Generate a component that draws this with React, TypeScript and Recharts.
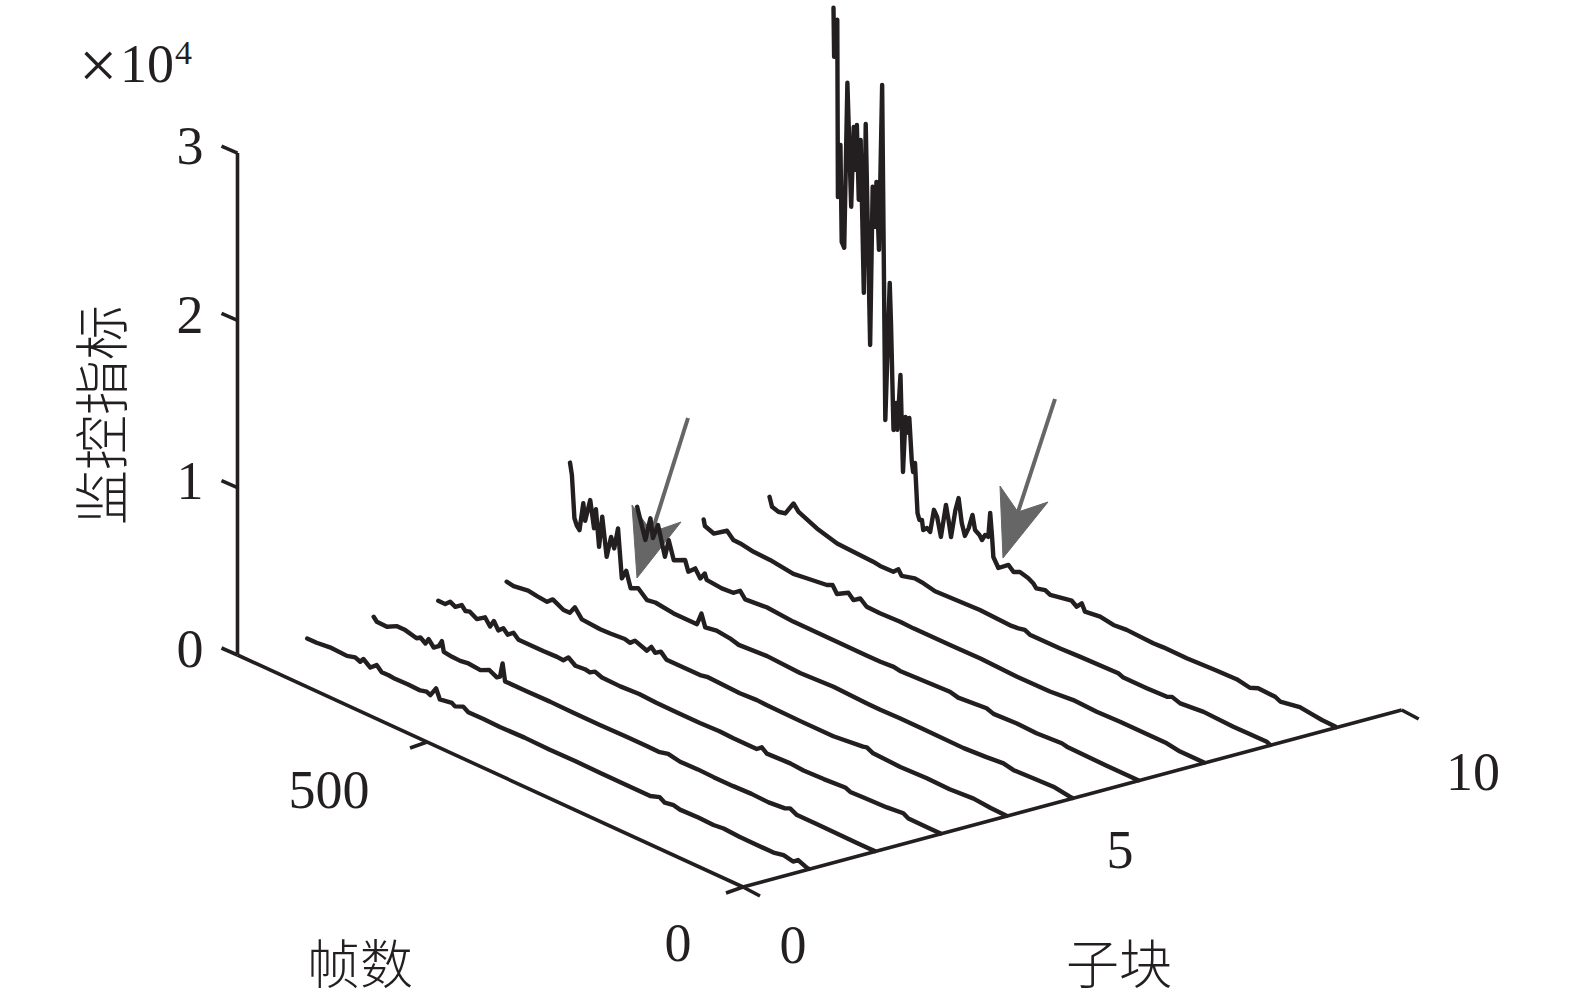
import { ComposedChart, Line, XAxis, YAxis } from 'recharts';

// [frame, monitoring index], back of the plot first
const block1 = [[794, 30], [779, 40], [758, 130], [731, 85], [718, 220], [710, 100], [705, 350], [694, 30], [684, 350], [676, 55], [665, 70], [655, 30], [635, 50], [615, 30], [605, 130], [599, 30], [590, 590], [584, 30], [565, 155], [560, 30], [547, 240], [539, 40], [515, 60], [489, 30], [450, 70], [410, 40], [370, 60], [330, 30], [288, 30], [251, 30], [236, 220], [228, 30], [214, 120], [204, 30], [175, 60], [151, 30], [135, 100], [110, 40], [83, 30], [56, 30], [40, 155], [25, 30], [17, 260], [3, 30], [0, 30]];
const block2 = [[793, 290], [788, 80], [772, 55], [756, 370], [743, 360], [725, 185], [719, 335], [711, 115], [706, 460], [698, 100], [690, 315], [685, 710], [682, 115], [669, 45], [656, 30], [643, 100], [624, 30], [610, 280], [598, 50], [593, 175], [589, 1040], [585, 30], [551, 30], [514, 55], [477, 30], [435, 30], [392, 60], [361, 60], [342, 35], [327, 170], [308, 30], [280, 60], [255, 30], [224, 30], [195, 70], [168, 30], [142, 125], [134, 260], [123, 50], [92, 60], [55, 40], [29, 30], [10, 30], [0, 30]];
const block3 = [[795, 155], [784, 145], [776, 420], [768, 260], [758, 540], [752, 290], [745, 370], [734, 120], [721, 450], [713, 40], [707, 470], [700, 30], [692, 295], [685, 30], [676, 305], [668, 30], [629, 30], [607, 60], [597, 30], [589, 340], [578, 30], [563, 85], [555, 30], [547, 215], [536, 60], [507, 30], [477, 90], [450, 40], [418, 30], [381, 30], [350, 70], [328, 30], [291, 30], [283, 270], [275, 30], [238, 90], [217, 30], [185, 70], [151, 160], [143, 30], [122, 60], [85, 110], [59, 210], [51, 30], [19, 30], [0, 30]];
const block4 = [[791, 305], [780, 230], [757, 360], [743, 275], [727, 210], [718, 515], [701, 170], [691, 185], [683, 645], [672, 115], [643, 30], [627, 50], [604, 125], [596, 30], [588, 300], [569, 30], [562, 380], [556, 130], [547, 355], [538, 30], [485, 30], [474, 115], [422, 30], [395, 90], [379, 60], [327, 30], [274, 30], [227, 220], [221, 280], [211, 100], [200, 90], [168, 30], [126, 80], [90, 50], [52, 150], [25, 60], [0, 30]];
const block5 = [[795, 6300], [792, 5610], [788, 3090], [784, 2700], [780, 2520], [774, 4230], [771, 3240], [763, 4610], [757, 3030], [754, 4220], [749, 2060], [744, 3950], [737, 1670], [730, 2980], [725, 2380], [719, 3680], [713, 795], [706, 1370], [699, 450], [687, 660], [673, 185], [660, 275], [631, 125], [594, 125], [587, 880], [581, 155], [563, 270], [542, 180], [528, 30], [483, 140], [431, 30], [378, 125], [325, 50], [304, 30], [273, 60], [238, 60], [172, 30], [136, 115], [109, 210], [93, 80], [62, 140], [30, 185], [4, 40], [0, 30]];
const block6 = [[793, 2630], [780, 875], [772, 2310], [768, 1200], [760, 2120], [749, 410], [743, 1500], [735, 440], [717, 765], [712, 155], [701, 545], [693, 85], [686, 500], [683, 170], [659, 80], [641, 125], [630, 440], [622, 60], [588, 180], [546, 50], [482, 50], [430, 30], [408, 40], [387, 100], [377, 30], [298, 160], [285, 30], [240, 175], [229, 30], [192, 100], [161, 50], [121, 145], [113, 80], [50, 30], [0, 30]];
const block7 = [[792, 840], [790, 480], [776, 270], [755, 800], [745, 420], [734, 405], [713, 270], [687, 235], [650, 40], [629, 145], [597, 295], [588, 455], [581, 40], [563, 425], [555, 125], [544, 410], [534, 90], [513, 60], [481, 115], [460, 80], [402, 90], [354, 120], [296, 30], [244, 50], [207, 180], [170, 125], [133, 170], [59, 160], [38, 30], [0, 30]];
const block8 = [[792, 1130], [788, 600], [778, 480], [767, 570], [754, 1390], [746, 1030], [717, 540], [685, 190], [664, 155], [628, 95], [617, 30], [596, 50], [588, 330], [583, 30], [562, 245], [548, 180], [530, 30], [459, 140], [409, 50], [398, 100], [388, 175], [380, 30], [332, 40], [301, 90], [240, 150], [232, 30], [195, 40], [163, 80], [155, 215], [142, 50], [105, 185], [58, 115], [34, 125], [5, 130], [0, 30]];
const block9 = [[795, 29250], [794, 26340], [789, 28640], [788, 18060], [784, 21250], [782, 15480], [778, 15200], [773, 25150], [767, 17840], [763, 22680], [760, 20170], [758, 22890], [755, 18470], [752, 22090], [747, 13040], [744, 23190], [737, 10100], [733, 19630], [729, 17300], [727, 20020], [723, 16030], [718, 25980], [713, 6030], [706, 14350], [704, 11990], [700, 5660], [696, 7350], [694, 5770], [689, 9140], [685, 3410], [681, 6770], [676, 5900], [675, 6820], [671, 4250], [669, 3690], [666, 4280], [662, 1350], [659, 990], [655, 1060], [653, 500], [647, 720], [642, 570], [636, 2000], [631, 1660], [625, 570], [617, 2620], [613, 1790], [609, 840], [602, 2580], [597, 3380], [592, 1970], [587, 1290], [581, 1860], [575, 2750], [571, 1920], [564, 1740], [560, 1510], [555, 1900], [550, 1870], [547, 3360], [544, 1960], [542, 810], [534, 290], [518, 750], [510, 470], [500, 640], [487, 510], [479, 335], [474, 110], [460, 250], [452, 100], [418, 345], [410, 125], [402, 460], [397, 55], [373, 170], [352, 40], [331, 110], [289, 40], [273, 70], [246, 70], [236, 60], [191, 140], [157, 180], [136, 30], [123, 225], [96, 185], [88, 40], [57, 240], [36, 145], [22, 80], [1, 60], [0, 30]];

const blockSeries = [block1, block2, block3, block4, block5, block6, block7, block8, block9];

const indexTicks = [0, 1, 2, 3];
const frameTicks = [0, 500];
const blockTickEnds = [0, 10];

const FRAME_MAX = 800;
const BLOCK_MAX = 10;
const INK = '#231f20';
const ARROW = '#666666';

// oblique view: block and frame span the floor, the index goes straight up
const project = (block: number, frame: number, value: number) => ({
  sx: 743 + 65.87 * block - (505.5 * frame) / FRAME_MAX,
  sy: 887 - 17.7 * block - (232 * frame) / FRAME_MAX - (167.3 * value) / 10000,
});

const withOffset = (p: { sx: number; sy: number }, dx: number, dy: number) => [p, { sx: p.sx + dx, sy: p.sy + dy }];

const axisPaths = [
  [project(0, FRAME_MAX, 0), project(0, FRAME_MAX, 30000)],
  [project(0, FRAME_MAX, 0), project(0, 0, 0)],
  [project(0, 0, 0), project(BLOCK_MAX, 0, 0)],
  ...indexTicks.map((v) => withOffset(project(0, FRAME_MAX, v * 10000), -16, -7)),
  ...frameTicks.map((f) => withOffset(project(0, f, 0), -17, 6)),
  ...blockTickEnds.map((b) => withOffset(project(b, 0, 0), 17, 9)),
];

const serif = '"Liberation Serif", serif';
const cjk = '"Noto Sans CJK SC", sans-serif';

export default function App() {
  return (
    <div style={{ position: 'absolute', left: 0, top: 0, width: 1575, height: 1000, background: '#fff' }}>
      <ComposedChart width={1575} height={1000} margin={{ top: 0, right: 0, bottom: 0, left: 0 }}>
        <XAxis type="number" dataKey="sx" domain={[0, 1575]} hide />
        <YAxis type="number" domain={[0, 1000]} reversed hide />
        {axisPaths.map((path, i) => (
          <Line key={'axis' + i} data={path} dataKey="sy" stroke={INK} strokeWidth={3.6} dot={false} activeDot={false} legendType="none" isAnimationActive={false} />
        ))}
        {blockSeries.map((series, i) => (
          <Line
            key={'block' + (i + 1)}
            data={series.map(([frame, value]) => project(i + 1, frame, value))}
            dataKey="sy"
            stroke={INK}
            strokeWidth={4.4}
            strokeLinejoin="round"
            strokeLinecap="round"
            dot={false}
            activeDot={false}
            isAnimationActive={false}
          />
        ))}

        {/* annotation arrows */}
        <g fill={ARROW} stroke={ARROW}>
          <line x1={688} y1={418} x2={652} y2={532} strokeWidth={4} />
          <polygon points="637,578 632,505 652,532 681,522" strokeWidth={1} />
          <line x1={1055} y1={399} x2={1018} y2={512} strokeWidth={4} />
          <polygon points="1003,558 1000,486 1018,512 1048,502" strokeWidth={1} />
        </g>

        <g fontFamily={serif} fontSize={54} fill={INK}>
          <text x={79} y={88} fontSize={68}>×</text>
          <text x={120} y={82}>10</text>
          <text x={175} y={64} fontSize={34}>4</text>
          <text x={190} y={164} textAnchor="middle">3</text>
          <text x={190} y={333} textAnchor="middle">2</text>
          <text x={190} y={499} textAnchor="middle">1</text>
          <text x={190} y={667} textAnchor="middle">0</text>
          <text x={329} y={808} textAnchor="middle">500</text>
          <text x={678} y={961} textAnchor="middle">0</text>
          <text x={793} y={963} textAnchor="middle">0</text>
          <text x={1120} y={868} textAnchor="middle">5</text>
          <text x={1473} y={790} textAnchor="middle">10</text>
        </g>
        <g fontFamily={cjk} fontSize={53} fill={INK} fontWeight={300}>
          <text x={307} y={984}>帧数</text>
          <text x={1066} y={984}>子块</text>
          <text transform="translate(122,415) rotate(-90)" textAnchor="middle" fontSize={55}>监控指标</text>
        </g>
      </ComposedChart>
    </div>
  );
}
